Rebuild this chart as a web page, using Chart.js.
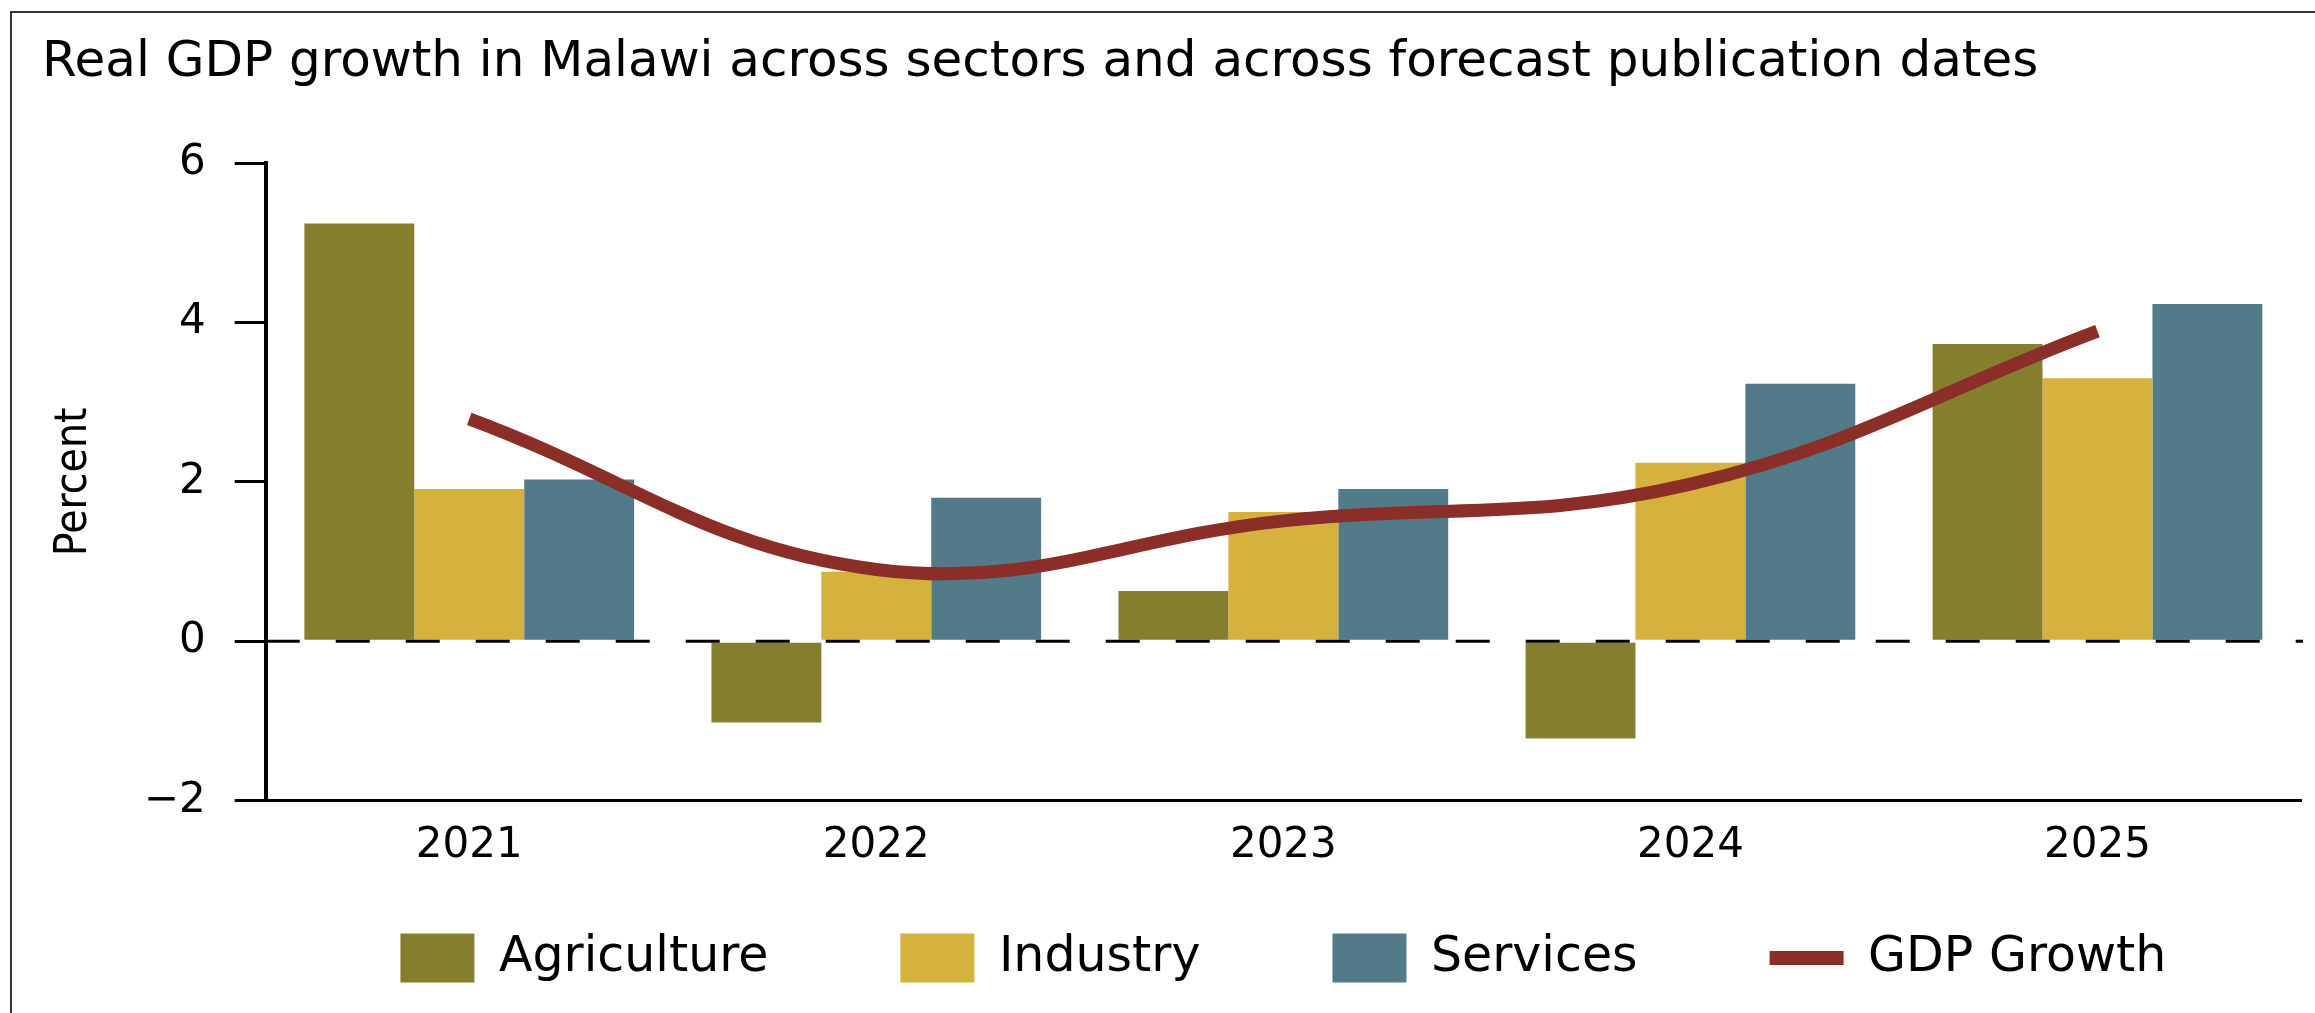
<!DOCTYPE html>
<html>
<head>
<meta charset="utf-8">
<title>Real GDP growth in Malawi</title>
<script src="https://cdn.jsdelivr.net/npm/chart.js@4.4.1/dist/chart.umd.min.js"></script>
<style>
  html, body { margin: 0; padding: 0; background: #fff; }
  #wrap { width: 2315px; height: 1013px; }
</style>
</head>
<body>
<div id="wrap"><canvas id="myChart" width="2315" height="1013"></canvas></div>
<script>
(() => {
  "use strict";

  // data
  const years = ["2021", "2022", "2023", "2024", "2025"];
  const agriculture = [5.24, -1.02, 0.63, -1.22, 3.73];
  const industry = [1.91, 0.87, 1.62, 2.24, 3.30];
  const services = [2.03, 1.80, 1.91, 3.23, 4.23];
  const gdpGrowth = [2.79, 0.90, 1.51, 1.97, 3.89];
  const yRange = [-2, 6];
  const yStep = 2;

  const FONT = "'DejaVu Sans', sans-serif";

  // frame round the figure (top and left edges, like the source)
  const frame = {
    id: "frame",
    beforeDraw(chart) {
      const { ctx } = chart;
      ctx.save();
      ctx.fillStyle = "#fff";
      ctx.fillRect(0, 0, chart.width, chart.height);
      ctx.strokeStyle = "#333";
      ctx.lineWidth = 2;
      ctx.beginPath();
      ctx.moveTo(11, chart.height);
      ctx.lineTo(11, 12);
      ctx.lineTo(chart.width, 12);
      ctx.stroke();
      ctx.restore();
    },
  };

  // dashed line at zero, drawn over the bars
  const zeroLine = {
    id: "zeroLine",
    afterDatasetsDraw(chart) {
      const { ctx, chartArea, scales } = chart;
      const py = scales.y.getPixelForValue(0);
      ctx.save();
      ctx.strokeStyle = "#000";
      ctx.lineWidth = 3;
      ctx.setLineDash([34, 36]);
      ctx.beginPath();
      ctx.moveTo(chartArea.left, py);
      ctx.lineTo(chartArea.right + 2, py);
      ctx.stroke();
      ctx.restore();
    },
  };

  // legend padding also spaces the items apart, so pull the legend box
  // up under the axis once layout is done (and let it reach the bottom,
  // since the legend clips to its own box)
  const legendUp = {
    id: "legendUp",
    afterLayout(chart) {
      const lg = chart.legend;
      lg.top = chart.chartArea.bottom + 1;
      lg.bottom = chart.height;
      lg.height = lg.bottom - lg.top;
    },
  };

  const ctx = document.getElementById("myChart");
  // eslint-disable-next-line no-unused-vars
  const myChart = new Chart(ctx, {
    data: {
      labels: years,
      datasets: [
        {
          type: "bar",
          label: "Agriculture",
          data: agriculture,
          backgroundColor: "#857F2D",
          order: 1,
        },
        {
          type: "bar",
          label: "Industry",
          data: industry,
          backgroundColor: "#D5B13E",
          order: 1,
        },
        {
          type: "bar",
          label: "Services",
          data: services,
          backgroundColor: "#527A89",
          order: 1,
        },
        {
          type: "line",
          label: "GDP Growth",
          data: gdpGrowth,
          borderColor: "#8B2E27",
          backgroundColor: "#8B2E27",
          borderWidth: 13,
          tension: 0.4,
          pointRadius: 0,
          order: 0,
        },
      ],
    },
    options: {
      responsive: false,
      animation: false,
      devicePixelRatio: 1,
      categoryPercentage: 0.81,
      barPercentage: 1,
      layout: {
        padding: { left: 42, right: 14, top: 0, bottom: 24 },
      },
      scales: {
        x: {
          grid: { display: false, drawTicks: false },
          border: { display: true, color: "#000", width: 3 },
          ticks: {
            color: "#000",
            padding: 20,
            font: { family: FONT, size: 42 },
          },
        },
        y: {
          min: yRange[0],
          max: yRange[1],
          grid: {
            drawOnChartArea: false,
            drawTicks: true,
            tickLength: 31,
            tickColor: "#000",
            tickWidth: 3,
            color: "#000",
            lineWidth: 3,
          },
          border: { display: true, color: "#000", width: 4 },
          ticks: {
            stepSize: yStep,
            color: "#000",
            padding: 29,
            font: { family: FONT, size: 42 },
            callback: (v) => (v < 0 ? "\u2212" + Math.abs(v) : String(v)),
          },
          title: {
            display: true,
            text: "Percent",
            color: "#000",
            font: { family: "'DejaVu Sans Condensed', 'DejaVu Sans', sans-serif", size: 44 },
            padding: { top: 6, bottom: 14 },
          },
        },
      },
      plugins: {
        title: {
          display: true,
          text: "Real GDP growth in Malawi across sectors and across forecast publication dates",
          align: "start",
          color: "#000",
          font: { family: FONT, size: 50, weight: "normal" },
          padding: { top: 33, bottom: 70 },
        },
        legend: {
          position: "bottom",
          fullSize: false,
          maxHeight: 98,
          labels: {
            usePointStyle: true,
            pointStyleWidth: 74,
            boxHeight: 51,
            padding: 132,
            color: "#000",
            font: { family: FONT, size: 49 },
            generateLabels: (chart) =>
              chart.data.datasets.map((ds, i) => ({
                text: ds.label,
                fillStyle: ds.backgroundColor,
                strokeStyle: ds.type === "line" ? ds.borderColor : ds.backgroundColor,
                lineWidth: ds.type === "line" ? 14 : 0,
                pointStyle: ds.type === "line" ? "line" : "rect",
                fontColor: "#000",
                hidden: false,
                datasetIndex: i,
              })),
          },
        },
        tooltip: { enabled: false },
      },
    },
    plugins: [frame, zeroLine, legendUp],
  });
})();
</script>
</body>
</html>
